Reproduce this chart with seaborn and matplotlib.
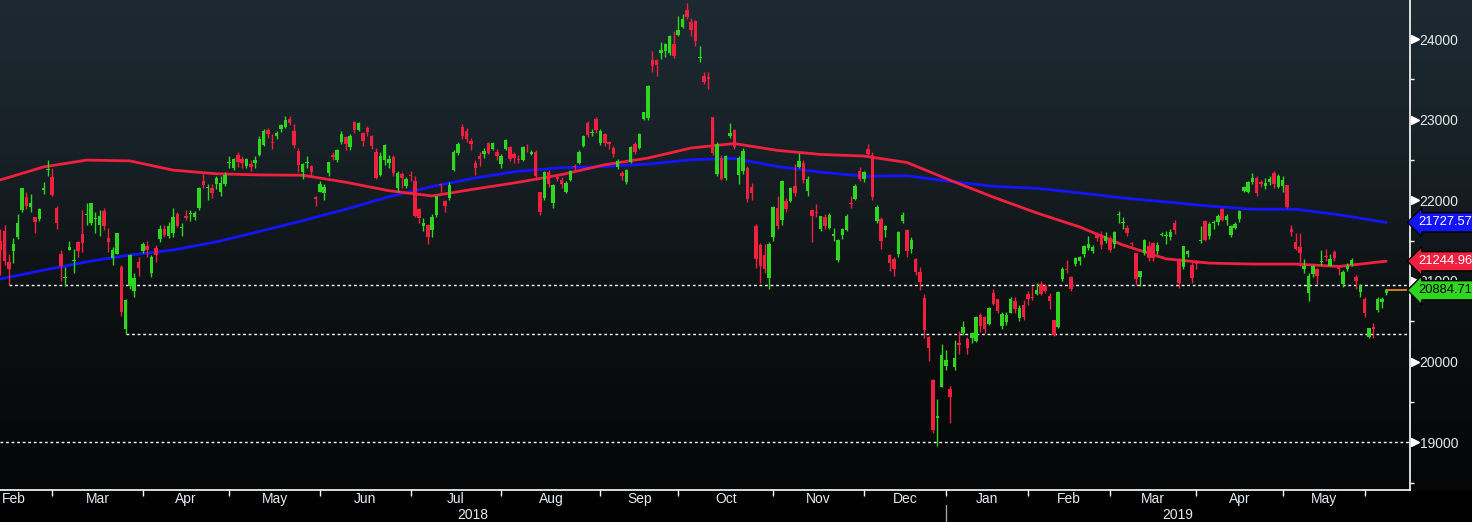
import numpy as np
import matplotlib
matplotlib.use("Agg")
import matplotlib.pyplot as plt
import matplotlib.transforms as mtransforms
from matplotlib import font_manager
import seaborn as sns

# daily candles, one value per trading day, 9 Feb 2018 -> 7 Jun 2019
opens = [
    21500, 21620, 21240, 21370, 21540, 21880, 22040, 21920, 21790, 21770, 22130, 22380, 22290,  # Feb 18
    21900, 21340, 21040, 21385, 21250, 21480, 21585, 21820, 21720, 21770, 21690, 21870, 21535, 21290, 21335, 21170, 20400, 20940, 20876, 21236, 21373,  # Mar
    21440, 21100, 21410, 21520, 21640, 21560, 21600, 21830, 21660, 21810, 21830, 21790, 21900, 22240, 22150, 22150, 22200, 22100, 22200, 22460,  # Apr
    22400, 22565, 22510, 22428, 22453, 22470, 22560, 22690, 22870, 22730, 22800, 22890, 22913, 23010, 22863, 22614, 22353, 22470, 22428, 22043, 22105,  # May
    22093, 22340, 22565, 22503, 22726, 22788, 22664, 22975, 22875, 22838, 22900, 22801, 22600, 22316, 22503, 22470, 22540, 22155, 22328, 22179, 22315,  # Jun
    22241, 21894, 21680, 21696, 21633, 21820, 22204, 21994, 22030, 22378, 22590, 22913, 22863, 22735, 22466, 22553, 22580, 22715, 22640, 22602, 22453,  # Jul
    22640, 22664, 22578, 22515, 22503, 22652, 22580, 22602, 22105, 22030, 22353, 21969, 22291, 22254, 22105, 22254, 22430, 22466, 22676, 22962, 22830, 23012, 22714,  # Aug
    22825, 22730, 22652, 22416, 22341, 22229, 22478, 22701, 22652, 23012, 23025, 23745, 23745, 23832, 23857, 23832, 23944, 24056,  # Sep
    24155, 24366, 24217, 24230, 23770, 23545, 23533, 23037, 22330, 22527, 22279, 22800, 22875, 22316, 22366, 22403, 22167, 21683, 21447, 21323, 21037, 21546,  # Oct
    21906, 21757, 21994, 21994, 22179, 22416, 22466, 22117, 21882, 21860, 21646, 21795, 21658, 21560, 21261, 21571, 21633, 21970, 22018, 22366, 22266,  # Nov
    22640, 22565, 21745, 21770, 21633, 21323, 21273, 21335, 21745, 21633, 21400, 21273, 21112, 20788, 20304, 19770, 19300, 19683, 19944,  # Dec
    19659, 19932, 20230, 20354, 20280, 20292, 20255, 20578, 20553, 20466, 20851, 20776, 20441, 20491, 20603, 20752, 20540, 20702, 20839,  # Jan 19
    20801, 20839, 20963, 20938, 20814, 20516, 20429, 21025, 21150, 21050, 21211, 21248, 21335, 21410, 21372, 21583, 21558, 21496, 21533,  # Feb
    21460, 21820, 21720, 21658, 21460, 21347, 21050, 21347, 21435, 21472, 21372, 21570, 21560, 21540, 21720, 21273, 21174, 21340, 21199, 21240,  # Mar
    21490, 21745, 21558, 21720, 21732, 21894, 21760, 21571, 21660, 21770, 22117, 22105, 22229, 22279, 22230, 22180, 22230, 22341, 22167, 22179,  # Apr
    22186, 21650, 21484, 21420, 21150, 20850, 21087, 21149, 21240, 21310, 21190, 21360, 21170, 20963, 21150, 21200, 21050, 20863, 20776,  # May
    20304, 20429, 20640, 20740, 20850,  # Jun
]
highs = [
    21640, 21700, 21340, 21530, 21830, 22152, 22100, 22080, 21800, 21900, 22230, 22500, 22400,
    21930, 21380, 21170, 21490, 21400, 21500, 21880, 21970, 21970, 21850, 21880, 21900, 21660, 21420, 21600, 21200, 20780, 21330, 21100, 21300, 21480,
    21500, 21320, 21450, 21700, 21700, 21730, 21900, 21850, 21720, 21880, 21880, 21870, 22170, 22350, 22200, 22200, 22300, 22300, 22350, 22550,
    22520, 22600, 22550, 22530, 22500, 22550, 22800, 22880, 22900, 22820, 22860, 22950, 23050, 23050, 22950, 22650, 22460, 22550, 22440, 22050, 22240,
    22200, 22480, 22600, 22640, 22860, 22800, 22820, 22990, 22970, 22850, 22920, 22810, 22650, 22600, 22700, 22560, 22560, 22360, 22350, 22290, 22370,
    22300, 21900, 21780, 21710, 21830, 22060, 22220, 22000, 22230, 22620, 22720, 22950, 22900, 22770, 22500, 22600, 22650, 22730, 22730, 22640, 22570,
    22760, 22680, 22600, 22560, 22680, 22700, 22630, 22620, 22110, 22370, 22380, 22200, 22320, 22290, 22240, 22380, 22450, 22620, 22810, 22980, 22880, 23030, 22890,
    22840, 22740, 22670, 22510, 22360, 22390, 22680, 22720, 22830, 23100, 23430, 23850, 23760, 23970, 23950, 24050, 24100, 24290,
    24310, 24448, 24260, 24240, 23920, 23590, 23590, 23040, 22720, 22560, 22560, 22960, 22880, 22550, 22650, 22430, 22220, 21710, 21470, 21460, 21480, 21930,
    22050, 22250, 22030, 22160, 22450, 22590, 22500, 22300, 21890, 21950, 21810, 21830, 21840, 21660, 21520, 21660, 21830, 22050, 22200, 22410, 22360,
    22700, 22600, 21940, 21800, 21700, 21340, 21300, 21620, 21860, 21640, 21540, 21290, 21170, 20840, 20320, 19785, 19530, 20220, 20150,
    19700, 20270, 20380, 20500, 20300, 20370, 20560, 20600, 20560, 20680, 20900, 20780, 20620, 20620, 20800, 20800, 20700, 20760, 20880,
    20940, 20970, 21000, 20960, 20850, 20520, 20880, 21170, 21260, 21060, 21300, 21310, 21450, 21560, 21450, 21610, 21620, 21610, 21560,
    21620, 21870, 21790, 21700, 21480, 21350, 21130, 21520, 21500, 21480, 21480, 21610, 21620, 21640, 21760, 21290, 21440, 21390, 21230, 21260,
    21680, 21760, 21730, 21760, 21830, 21900, 21830, 21700, 21730, 21880, 22180, 22240, 22340, 22300, 22250, 22280, 22300, 22360, 22330, 22300,
    22190, 21700, 21600, 21600, 21270, 21100, 21200, 21160, 21380, 21400, 21330, 21390, 21200, 21140, 21220, 21290, 21070, 20960, 20800,
    20420, 20480, 20800, 20800, 20900,
]
lows = [
    21080, 21200, 20950, 21220, 21520, 21850, 21890, 21850, 21600, 21750, 22080, 22300, 22050,
    21645, 21000, 20940, 21380, 21100, 21300, 21360, 21700, 21700, 21600, 21560, 21630, 21360, 21200, 21330, 20560, 20347, 20900, 20800, 21060, 21350,
    21300, 21050, 21230, 21480, 21550, 21530, 21546, 21670, 21560, 21760, 21750, 21760, 21880, 22150, 22000, 22030, 22140, 22060, 22180, 22400,
    22380, 22420, 22400, 22400, 22370, 22400, 22550, 22680, 22780, 22640, 22760, 22850, 22900, 22940, 22650, 22350, 22260, 22400, 22300, 21930, 22100,
    22000, 22300, 22500, 22480, 22700, 22620, 22630, 22830, 22860, 22680, 22800, 22640, 22270, 22300, 22440, 22400, 22300, 22100, 22150, 22150, 22240,
    21800, 21720, 21620, 21460, 21550, 21800, 22110, 21850, 22010, 22360, 22560, 22760, 22730, 22620, 22320, 22430, 22530, 22570, 22620, 22500, 22400,
    22620, 22490, 22470, 22470, 22490, 22600, 22560, 22250, 21820, 22000, 22170, 21900, 22240, 22150, 22090, 22240, 22380, 22450, 22660, 22790, 22800, 22830, 22690,
    22670, 22640, 22540, 22390, 22250, 22200, 22460, 22580, 22640, 23000, 23000, 23590, 23540, 23760, 23780, 23800, 23770, 24040,
    24140, 24250, 24040, 23920, 23720, 23440, 23380, 22560, 22300, 22250, 22250, 22770, 22640, 22200, 22330, 21980, 22000, 21160, 20971, 21100, 20900, 21500,
    21650, 21700, 21850, 21980, 22060, 22400, 22220, 22060, 21480, 21800, 21620, 21640, 21640, 21500, 21240, 21520, 21620, 21900, 22000, 22240, 22230,
    22560, 22000, 21720, 21400, 21550, 21130, 21060, 21300, 21720, 21300, 21350, 21070, 20890, 20290, 20006, 19117, 18949, 19680, 19900,
    19241, 19900, 20100, 20330, 20100, 20230, 20240, 20370, 20360, 20450, 20700, 20600, 20400, 20450, 20600, 20600, 20500, 20520, 20700,
    20760, 20820, 20820, 20850, 20650, 20316, 20420, 21000, 21100, 20870, 21180, 21200, 21300, 21380, 21350, 21500, 21400, 21470, 21360,
    21410, 21720, 21650, 21560, 21440, 20950, 20940, 21320, 21250, 21250, 21330, 21560, 21460, 21510, 21580, 20911, 21150, 21300, 20980, 21150,
    21470, 21490, 21520, 21650, 21700, 21740, 21700, 21540, 21640, 21730, 22100, 22090, 22200, 22060, 22160, 22140, 22190, 22150, 22150, 22100,
    21900, 21560, 21380, 21180, 21100, 20751, 21050, 20960, 21200, 21250, 21180, 21250, 21080, 20930, 21130, 21180, 20900, 20800, 20550,
    20290, 20289, 20620, 20660, 20820,
]
closes = [
    21383, 21245, 21154, 21465, 21720, 22149, 21925, 21971, 21736, 21893, 22154, 22390, 22068,
    21724, 21182, 21042, 21418, 21253, 21368, 21469, 21824, 21968, 21777, 21804, 21677, 21481, 21381, 21592, 20618, 20766, 21317, 21031, 21159, 21454,
    21389, 21292, 21320, 21645, 21568, 21678, 21794, 21687, 21660, 21779, 21836, 21848, 22158, 22191, 22162, 22088, 22278, 22215, 22320, 22468,
    22508, 22473, 22467, 22509, 22409, 22497, 22758, 22866, 22818, 22717, 22838, 22930, 23002, 22960, 22690, 22437, 22451, 22481, 22358, 22019, 22202,
    22171, 22476, 22540, 22626, 22823, 22694, 22804, 22878, 22966, 22739, 22852, 22680, 22278, 22555, 22693, 22517, 22338, 22342, 22272, 22270, 22305,
    21812, 21786, 21717, 21547, 21788, 22052, 22197, 21932, 22188, 22597, 22698, 22794, 22765, 22697, 22397, 22510, 22614, 22587, 22713, 22545, 22554,
    22747, 22513, 22525, 22507, 22663, 22644, 22598, 22298, 21857, 22356, 22204, 22192, 22270, 22199, 22220, 22363, 22411, 22602, 22800, 22813, 22848, 22870, 22865,
    22707, 22697, 22581, 22488, 22307, 22373, 22665, 22605, 22821, 23095, 23421, 23673, 23675, 23870, 23940, 24034, 23797, 24120,
    24246, 24271, 24111, 23976, 23784, 23469, 23506, 22591, 22695, 22271, 22549, 22841, 22658, 22532, 22615, 22011, 22091, 21269, 21185, 21150, 21457, 21920,
    21688, 22244, 21899, 22148, 22086, 22487, 22250, 22270, 21811, 21846, 21804, 21680, 21821, 21583, 21508, 21647, 21812, 21952, 22177, 22263, 22351,
    22575, 22036, 21919, 21502, 21679, 21220, 21148, 21603, 21816, 21375, 21507, 21115, 20988, 20393, 20166, 19156, 19327, 20078, 20015,
    19562, 20039, 20204, 20427, 20164, 20360, 20555, 20443, 20402, 20666, 20719, 20623, 20594, 20575, 20774, 20649, 20665, 20557, 20773,
    20788, 20884, 20844, 20874, 20751, 20333, 20864, 21144, 21140, 20901, 21282, 21303, 21431, 21464, 21426, 21528, 21449, 21557, 21385,
    21603, 21822, 21726, 21597, 21456, 21026, 21125, 21504, 21290, 21287, 21451, 21585, 21567, 21609, 21627, 20977, 21428, 21378, 21033, 21205,
    21509, 21505, 21713, 21725, 21808, 21762, 21803, 21688, 21711, 21871, 22169, 22222, 22278, 22090, 22201, 22218, 22260, 22200, 22308, 22259,
    21924, 21603, 21402, 21345, 21191, 21067, 21189, 21063, 21250, 21302, 21272, 21283, 21151, 21117, 21183, 21260, 21003, 20943, 20601,
    20411, 20409, 20776, 20774, 20884.71,
]

# moving averages every 10 sessions
ma_idx = [0, 10, 20, 30, 40, 50, 60, 70, 80, 90, 100, 110, 120, 130, 140, 150, 160,
          170, 180, 190, 200, 210, 220, 230, 240, 250, 260, 270, 280, 290, 300, 310, 320, 321]
ma100 = [22254, 22415, 22500, 22490, 22375, 22330, 22316, 22312, 22225, 22120, 22055, 22142,
         22225, 22320, 22442, 22525, 22650, 22705, 22620, 22570, 22550, 22470, 22250, 22040,
         21845, 21670, 21447, 21275, 21222, 21210, 21210, 21180, 21240, 21244.96]
ma200 = [21025, 21135, 21238, 21322, 21385, 21485, 21615, 21748, 21890, 22045, 22172, 22279,
         22362, 22406, 22420, 22450, 22505, 22520, 22420, 22350, 22300, 22305, 22235, 22175,
         22150, 22093, 22030, 21980, 21930, 21890, 21890, 21822, 21735, 21727.57]

# horizontal support levels and the session they start from
levels = [20950, 20347, 19000]
level_start = [2, 29, 0]

# month boundaries (index of first session of each month) and labels
month_first = [13, 34, 54, 75, 96, 117, 140, 158, 180, 201, 220, 239, 258, 278, 298, 317]
month_names = ["Feb", "Mar", "Apr", "May", "Jun", "Jul", "Aug", "Sep", "Oct", "Nov", "Dec",
               "Jan", "Feb", "Mar", "Apr", "May"]
years = ["2018", "2019"]
year_first = 220

GREEN = "#2fd51f"
RED = "#f2203f"
BLUE = "#1414ff"
TXT = "#e3eaf0"

sns.set_style("dark")
names = {f.name for f in font_manager.fontManager.ttflist}
if "Liberation Sans Narrow" in names:
    plt.rcParams["font.family"] = ["Liberation Sans Narrow", "DejaVu Sans"]
    FS, FS_FLAG = 11, 10.5
else:
    plt.rcParams["font.family"] = ["Liberation Sans", "DejaVu Sans"]
    FS, FS_FLAG = 10, 9.3

W, H = 1472, 522
fig = plt.figure(figsize=(W / 100, H / 100), dpi=100)

# background gradient (slate at top fading to black)
bg = fig.add_axes([0, 0, 1, 1], zorder=0)
stops_y = [0, 60, 130, 200, 260, 330, 420, 490]
stops_c = [(29, 42, 50), (27, 39, 46), (24, 34, 40), (20, 28, 32), (15, 21, 23),
           (11, 15, 16), (7, 10, 11), (4, 6, 7)]
rows = np.arange(H)
grad = np.zeros((H, 1, 3))
for k in range(3):
    grad[:, 0, k] = np.interp(rows, stops_y, [c[k] for c in stops_c]) / 255
grad[rows >= 491] = 0
bg.imshow(grad, aspect="auto", extent=[0, 1, 0, 1], interpolation="nearest")
bg.axis("off")

ax = fig.add_axes([0, 32 / H, 1410 / W, 490 / H], zorder=1)
ax.set_facecolor("none")

n = len(closes)
x = np.arange(n)
o = np.array(opens, float)
c = np.array(closes, float)
hi = np.array(highs, float)
lo = np.array(lows, float)
up = c >= o
cols = np.where(up, GREEN, RED)

xmin, xmax = -0.09, 326.5

# moving averages
sns.lineplot(x=ma_idx, y=ma200, ax=ax, color=BLUE, lw=2, zorder=2)
sns.lineplot(x=ma_idx, y=ma100, ax=ax, color=RED, lw=2, zorder=2)

# levels
for lv, st in zip(levels, level_start):
    ax.plot([st, xmax], [lv, lv], color="white", lw=1, ls=(0, (2, 2)), zorder=2)

# candles
ax.vlines(x, lo, hi, colors=cols, lw=1, zorder=3)
body = np.maximum(np.abs(c - o), 12)
ax.bar(x, body, bottom=np.minimum(o, c), width=0.8, color=cols, linewidth=0, zorder=4)

# last price marker line
ax.plot([n - 1, xmax], [c[-1], c[-1]], color="#ff8c1a", lw=1.2, zorder=3)

ax.set_xlim(xmin, xmax)
ax.set_ylim(18407, 24486)

for s in ["top", "left"]:
    ax.spines[s].set_visible(False)
for s in ["right", "bottom"]:
    ax.spines[s].set_visible(True)
    ax.spines[s].set_color("white")
    ax.spines[s].set_linewidth(1.2)

ax.yaxis.tick_right()
ax.set_yticks(range(19000, 24001, 1000))
ax.set_yticks(range(18500, 24001, 1000), minor=True)
ax.tick_params(axis="y", which="major", length=0, pad=7, labelsize=FS, labelcolor=TXT)
ax.tick_params(axis="y", which="minor", length=3, width=1, color="white", right=True)
ax.grid(False)

tr_y = mtransforms.blended_transform_factory(ax.transAxes, ax.transData)
ax.plot(np.full(6, 1 + 5 / 1410), range(19000, 24001, 1000), ls="none", marker=">",
        ms=6, color="white", transform=tr_y, clip_on=False, zorder=6)

ticks = [m - 1 for m in month_first]
ax.set_xticks(ticks)
ax.set_xticklabels([])
ax.tick_params(axis="x", length=4, width=1, color="white", bottom=True)

tr_x = mtransforms.blended_transform_factory(ax.transData, ax.transAxes)
edges = [xmin] + ticks
for i, name in enumerate(month_names):
    if i == 0:
        ax.text(0.3, -0.018, name, transform=tr_x, ha="left", va="center",
                fontsize=FS, color=TXT)
    else:
        ax.text((edges[i] + edges[i + 1]) / 2, -0.018, name, transform=tr_x, ha="center",
                va="center", fontsize=FS, color=TXT)

yb = year_first - 1
ax.text((xmin + yb) / 2, -0.052, years[0], transform=tr_x, ha="center", va="center",
        fontsize=FS, color=TXT)
ax.text((yb + xmax) / 2, -0.052, years[1], transform=tr_x, ha="center", va="center",
        fontsize=FS, color=TXT)
ax.plot([yb, yb], [-0.03, -0.07], transform=tr_x, color="#9aa4ab", lw=1, clip_on=False)

# value flags on the price axis
for val, fc, tc in [(ma200[-1], BLUE, "white"), (ma100[-1], RED, "white"), (c[-1], GREEN, "black")]:
    ax.text(1 + 8 / 1410, val, f"{val:.2f}", transform=tr_y, ha="left", va="center",
            fontsize=FS_FLAG, color=tc, zorder=7, clip_on=False,
            bbox=dict(boxstyle="larrow,pad=0.28", fc=fc, ec="black", lw=1))

ax.set_xlabel("")
ax.set_ylabel("")
fig.savefig("out.png", dpi=100, facecolor="black")
